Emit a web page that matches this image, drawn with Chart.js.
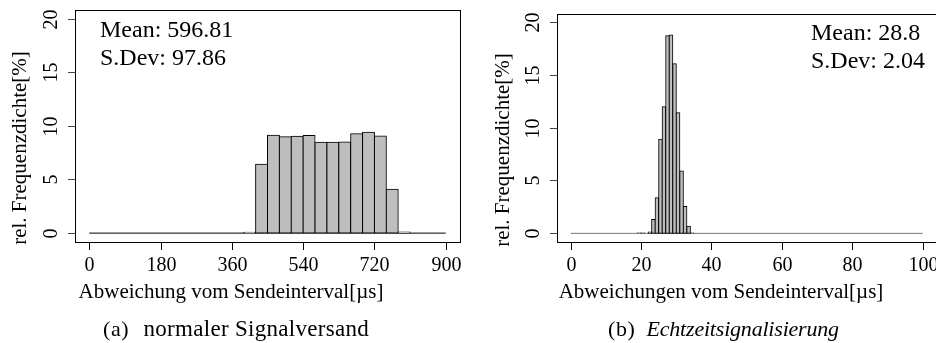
<!DOCTYPE html>
<html>
<head>
<meta charset="utf-8">
<script src="https://cdn.jsdelivr.net/npm/chart.js@4.4.1/dist/chart.umd.min.js"></script>
<style>
  html, body { margin: 0; padding: 0; background: #fff; overflow: hidden; }
  #wrap { position: relative; width: 936px; height: 343px; overflow: hidden; }
  canvas { position: absolute; top: 0; }
  #c1 { left: 0; }
  #c2 { left: 468px; }
</style>
</head>
<body>
<div id="wrap">
  <canvas id="c1" width="468" height="343"></canvas>
  <canvas id="c2" width="470" height="343"></canvas>
</div>
<script>
// (a) normaler Signalversand - Klassen zu 30 µs (Klassenanfang)
const binsA  = [390, 420, 450, 480, 510, 540, 570, 600, 630, 660, 690, 720, 750, 780];
const freqA  = [0.08, 6.42, 9.12, 8.99, 9.03, 9.09, 8.47, 8.47, 8.5, 9.27, 9.4, 9.06, 4.1, 0.1];
const widthA = 30;
const rangeA = [0, 900];
const xTicksA = [0, 180, 360, 540, 720, 900];

// (b) Echtzeitsignalisierung - Klassen zu 1 µs
const binsB  = [19, 20, 21, 22, 23, 24, 25, 26, 27, 28, 29, 30, 31, 32, 33, 34];
const freqB  = [0.03, 0.03, 0, 0.13, 1.32, 3.37, 8.9, 11.98, 18.7, 18.77, 16.04, 11.42, 5.9, 2.55, 0.66, 0.04];
const widthB = 1;
const rangeB = [0, 100];
const xTicksB = [0, 20, 40, 60, 80, 100];

const yTicks = [0, 5, 10, 15, 20];

const SERIF = '"Liberation Serif", "Times New Roman", serif';

// R-artige Achsen, Rahmen und Texte
const rAxes = {
  id: 'rAxes',
  afterDraw(chart, args, o) {
    const { ctx, chartArea: a, scales: { x, y } } = chart;
    const L = Math.round(a.left) + 0.5, T = Math.round(a.top) + 0.5;
    const R = Math.round(a.right) + 0.5, B = Math.round(a.bottom) + 0.5;
    ctx.save();
    ctx.strokeStyle = '#000';
    ctx.fillStyle = '#000';
    ctx.lineWidth = 1;
    ctx.strokeRect(L, T, R - L, B - T);

    // y-Achse
    ctx.font = '20px ' + SERIF;
    ctx.textAlign = 'center';
    ctx.textBaseline = 'middle';
    yTicks.forEach(v => {
      const py = Math.round(y.getPixelForValue(v)) + 0.5;
      ctx.strokeStyle = '#444';
      ctx.beginPath(); ctx.moveTo(L - 7.5, py); ctx.lineTo(L, py); ctx.stroke();
      ctx.save();
      ctx.translate(L - 24, py);
      ctx.rotate(-Math.PI / 2);
      ctx.fillText(String(v), 0, 0);
      ctx.restore();
    });

    // x-Achse
    ctx.textBaseline = 'alphabetic';
    const xs = o.xTicks.map(v => Math.round(x.getPixelForValue(v)) + 0.5);
    ctx.strokeStyle = '#000';
    ctx.beginPath(); ctx.moveTo(xs[0], B); ctx.lineTo(xs[xs.length - 1], B); ctx.stroke();
    o.xTicks.forEach((v, i) => {
      ctx.beginPath(); ctx.moveTo(xs[i], B); ctx.lineTo(xs[i], B + 7.5); ctx.stroke();
      ctx.fillText(String(v), xs[i], B + 28.5);
    });

    // Achsentitel
    ctx.font = '21px ' + SERIF;
    ctx.fillText(o.xTitle.text, o.xTitle.x, o.xTitle.y);
    ctx.save();
    ctx.translate(o.yTitle.x, o.yTitle.y);
    ctx.rotate(-Math.PI / 2);
    ctx.textBaseline = 'middle';
    ctx.fillText(o.yTitle.text, 0, 0);
    ctx.restore();

    // Mittelwert / Standardabweichung
    ctx.font = '24px ' + SERIF;
    ctx.textAlign = 'left';
    o.notes.forEach(n => ctx.fillText(n.text, n.x, n.y));

    // Unterschrift
    o.caption.parts.forEach(p => {
      ctx.font = (p.italic ? 'italic ' : '') + (p.size || 22) + 'px ' + SERIF;
      ctx.letterSpacing = (p.spacing || 0) + 'px';
      ctx.fillText(p.text, p.x, o.caption.y);
    });
    ctx.letterSpacing = '0px';
    ctx.restore();
  }
};

function makeHist(canvasId, bins, freq, width, range, xMin, xMax, pad, baseColor, opts) {
  return new Chart(document.getElementById(canvasId), {
    type: 'bar',
    data: {
      datasets: [
        {
          type: 'bar',
          data: bins.map((b, i) => ({ x: b + width / 2, y: freq[i] })),
          backgroundColor: '#bebebe',
          borderColor: '#000',
          borderWidth: 1,
          borderSkipped: false,
          inflateAmount: 0.5,
          barPercentage: 1,
          categoryPercentage: 1,
          order: 0
        },
        {
          type: 'line',
          data: [{ x: range[0], y: 0 }, { x: range[1], y: 0 }],
          borderColor: baseColor,
          borderWidth: 1,
          pointRadius: 0,
          order: 1
        }
      ]
    },
    options: {
      responsive: false,
      animation: false,
      devicePixelRatio: 1,
      events: [],
      layout: { padding: pad },
      plugins: { legend: { display: false }, tooltip: { enabled: false }, rAxes: opts },
      scales: {
        x: { type: 'linear', min: xMin, max: xMax, offset: false, display: false },
        y: { type: 'linear', min: -0.8, max: 20.8, display: false }
      }
    },
    plugins: [rAxes]
  });
}

makeHist('c1', binsA, freqA, widthA, rangeA, -36, 936,
  { left: 75, top: 10, right: 8, bottom: 101.3 }, '#000', {
    xTicks: xTicksA,
    xTitle: { text: 'Abweichung vom Sendeinterval[µs]', x: 231, y: 298 },
    yTitle: { text: 'rel. Frequenzdichte[%]', x: 20, y: 148 },
    notes: [{ text: 'Mean: 596.81', x: 100, y: 37 }, { text: 'S.Dev: 97.86', x: 100, y: 65 }],
    caption: { y: 336, parts: [
      { text: '(a)', x: 103, spacing: 0.6 },
      { text: 'normaler Signalversand', x: 143.5, size: 23, spacing: 0.3 }
    ] }
  });

makeHist('c2', binsB, freqB, widthB, rangeB, -4, 104,
  { left: 88.6, top: 13.5, right: 1.2, bottom: 101.2 }, '#777', {
    xTicks: xTicksB,
    xTitle: { text: 'Abweichungen vom Sendeinterval[µs]', x: 253, y: 298 },
    yTitle: { text: 'rel. Frequenzdichte[%]', x: 35, y: 150 },
    notes: [{ text: 'Mean: 28.8', x: 343, y: 39.5 }, { text: 'S.Dev: 2.04', x: 343, y: 68 }],
    caption: { y: 336, parts: [
      { text: '(b)', x: 140, spacing: 0.6 },
      { text: 'Echtzeitsignalisierung', x: 178.5, italic: true, spacing: -0.2 }
    ] }
  });
</script>
</body>
</html>
